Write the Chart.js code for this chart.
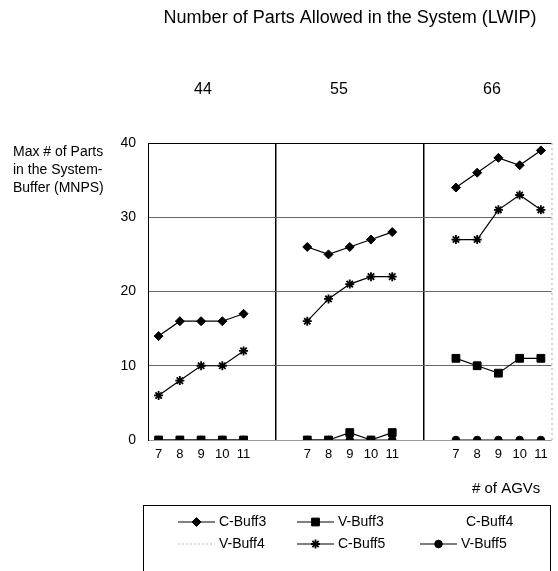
<!DOCTYPE html>
<html>
<head>
<meta charset="utf-8">
<script src="https://cdn.jsdelivr.net/npm/chart.js@4.4.0/dist/chart.umd.min.js"></script>
<style>
  html, body { margin: 0; padding: 0; background: #fff; }
  #wrap { width: 558px; height: 571px; }
</style>
</head>
<body>
<div id="wrap"><canvas id="chart" width="558" height="571"></canvas></div>
<script>
// x categories: AGV counts for each LWIP group, two empty slots between groups
var agvLabels = ["7", "8", "9", "10", "11", "", "", "7", "8", "9", "10", "11", "", "", "7", "8", "9", "10", "11"];
var groupLabels = ["44", "55", "66"];

// series (null = gap between groups)
var cBuff3 = [14, 16, 16, 16, 17, null, null, 26, 25, 26, 27, 28, null, null, 34, 36, 38, 37, 39];
var vBuff3 = [0, 0, 0, 0, 0, null, null, 0, 0, 1, 0, 1, null, null, 11, 10, 9, 11, 11];
var cBuff4 = [];
var vBuff4 = [];
var cBuff5 = [6, 8, 10, 10, 12, null, null, 16, 19, 21, 22, 22, null, null, 27, 27, 31, 33, 31];
var vBuff5 = [0, 0, 0, 0, 0, null, null, 0, 0, 0, 0, 0, null, null, 0, 0, 0, 0, 0];

var yMin = 0, yMax = 40, yStep = 10;

var FONT = '"Liberation Sans", Arial, sans-serif';

function series(label, data, style, radius) {
  return {
    label: label,
    data: data,
    borderColor: "#000",
    backgroundColor: "#000",
    borderWidth: 1.2,
    pointStyle: style,
    pointRadius: radius,
    pointBorderWidth: style === "star" ? 1.8 : 1,
    pointBackgroundColor: "#000",
    pointBorderColor: "#000",
    spanGaps: false,
    tension: 0
  };
}

// legend samples, row-major in 3 columns
var legendCols = [178, 297, 420];
var legendRows = [522, 544];
var legendSamples = [
  { line: true, point: "rectRot", r: 4.5 },
  { line: true, point: "rect", r: 5.5 },
  { line: false, point: null },
  { line: true, point: null, color: "#bbb", dash: [2, 2] },
  { line: true, point: "star", r: 4.5 },
  { line: true, point: "circle", r: 3.8 }
];

var extrasPlugin = {
  id: "extras",
  afterDraw: function (chart) {
    var ctx = chart.ctx;
    var area = chart.chartArea;
    ctx.save();
    ctx.fillStyle = "#000";
    ctx.textBaseline = "middle";

    // title
    ctx.font = "18px " + FONT;
    ctx.textAlign = "center";
    ctx.fillText("Number of Parts Allowed in the System (LWIP)", 350, 18);

    // group numbers
    ctx.font = "16px " + FONT;
    var gx = [203, 339, 492];
    groupLabels.forEach(function (g, i) {
      ctx.fillText(g, gx[i], 90);
    });

    // y axis title
    ctx.font = "14px " + FONT;
    ctx.textAlign = "left";
    ctx.fillText("Max # of Parts", 13, 152);
    ctx.fillText("in the System-", 13, 170);
    ctx.fillText("Buffer (MNPS)", 13, 188);

    // x axis title
    ctx.font = "15px " + FONT;
    ctx.fillText("# of AGVs", 472, 489);

    // right edge of plot, faint dotted
    ctx.strokeStyle = "#aaa";
    ctx.lineWidth = 1;
    ctx.setLineDash([2, 3]);
    ctx.beginPath();
    ctx.moveTo(area.right + 0.5, area.top);
    ctx.lineTo(area.right + 0.5, area.bottom);
    ctx.stroke();
    ctx.setLineDash([]);

    // legend box
    ctx.strokeStyle = "#000";
    ctx.lineWidth = 1;
    ctx.strokeRect(143.5, 505.5, 407, 80);

    chart.data.datasets.forEach(function (ds, i) {
      var s = legendSamples[i];
      var x0 = legendCols[i % 3];
      var y0 = legendRows[Math.floor(i / 3)];
      if (s.line) {
        ctx.strokeStyle = s.color || "#000";
        ctx.lineWidth = 1.2;
        ctx.setLineDash(s.dash || []);
        ctx.beginPath();
        ctx.moveTo(x0, y0);
        ctx.lineTo(x0 + 37, y0);
        ctx.stroke();
        ctx.setLineDash([]);
      }
      if (s.point) {
        ctx.fillStyle = "#000";
        ctx.strokeStyle = "#000";
        ctx.lineWidth = s.point === "star" ? 1.8 : 1;
        Chart.helpers.drawPoint(ctx, { pointStyle: s.point, radius: s.r, rotation: 0, borderWidth: ctx.lineWidth }, x0 + 18.5, y0);
      }
      ctx.fillStyle = "#000";
      ctx.font = "14px " + FONT;
      ctx.textAlign = "left";
      var tx = (i === 2) ? 466 : x0 + 41;
      ctx.fillText(ds.label, tx, y0);
    });

    ctx.restore();
  }
};

new Chart(document.getElementById("chart").getContext("2d"), {
  type: "line",
  data: {
    labels: agvLabels,
    datasets: [
      series("C-Buff3", cBuff3, "rectRot", 4.5),
      series("V-Buff3", vBuff3, "rect", 5.5),
      series("C-Buff4", cBuff4, false, 0),
      series("V-Buff4", vBuff4, false, 0),
      series("C-Buff5", cBuff5, "star", 4.5),
      series("V-Buff5", vBuff5, "circle", 3.8)
    ]
  },
  options: {
    responsive: false,
    animation: false,
    devicePixelRatio: 1,
    layout: { padding: { top: 143, right: 5, bottom: 106, left: 0 } },
    plugins: {
      legend: { display: false },
      tooltip: { enabled: false }
    },
    scales: {
      x: {
        type: "category",
        offset: true,
        grid: {
          offset: true,
          drawTicks: false,
          lineWidth: 1.5,
          color: function (c) {
            return (c.index === 6 || c.index === 13) ? "#000" : "rgba(0,0,0,0)";
          }
        },
        border: { display: false },
        ticks: {
          color: "#000",
          font: { family: FONT, size: 13 },
          autoSkip: false,
          maxRotation: 0,
          padding: 7
        },
        afterFit: function (scale) { scale.height = 25; }
      },
      y: {
        min: yMin,
        max: yMax,
        grid: {
          drawTicks: false,
          lineWidth: 1,
          color: function (c) {
            if (c.tick.value === yMax) return "#000";
            if (c.tick.value === yMin) return "#999";
            return "#666";
          }
        },
        border: { display: true, color: "#000", width: 1 },
        ticks: {
          stepSize: yStep,
          color: "#000",
          font: { family: FONT, size: 14 },
          padding: 12
        },
        afterFit: function (scale) { scale.width = 148; }
      }
    }
  },
  plugins: [extrasPlugin]
});
</script>
</body>
</html>
